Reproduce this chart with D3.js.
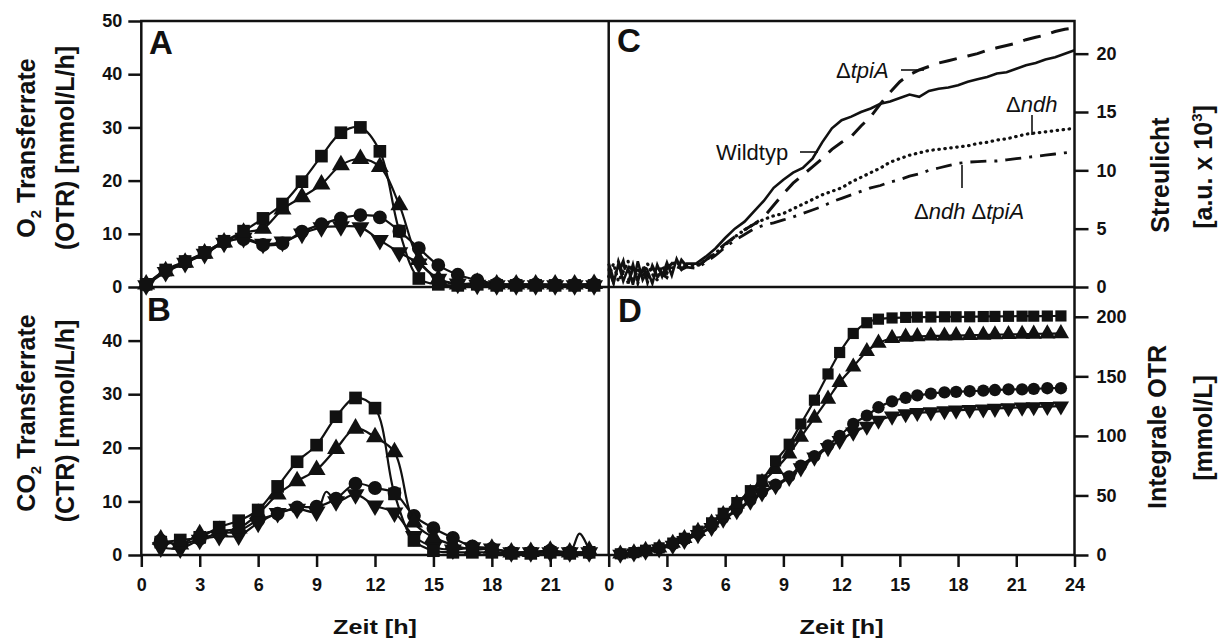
<!DOCTYPE html>
<html>
<head>
<meta charset="utf-8">
<script src="https://cdn.jsdelivr.net/npm/d3@7"></script>
<style>
body { margin: 0; background: #fff; }
svg text { font-family: "Liberation Sans", Arial, sans-serif; }
</style>
</head>
<body>
<svg id="chart" width="1228" height="639"></svg>
<script>
// ---- A: O2 transfer rate (OTR) ----
var timeA = [0.25, 1.25, 2.25, 3.25, 4.25, 5.25, 6.25, 7.25, 8.25, 9.25, 10.25, 11.25,
             12.25, 13.25, 14.25, 15.25, 16.25, 17.25, 18.25, 19.25, 20.25, 21.25, 22.25, 23.25];
var otrSquare = [0.5, 3.2, 4.8, 6.5, 8.6, 10.5, 12.9, 15.6, 19.8, 24.6, 29.0, 30.0, 25.5, 10.5, 1.6, 0.5, 0.3, 0.5, 0.3, 0.3, 0.3, 0.3, 0.3, 0.3];
var otrUp     = [0.5, 3.0, 4.6, 6.3, 8.4, 10.2, 11.0, 14.6, 16.9, 19.3, 22.9, 24.1, 22.6, 15.4, 5.1, 1.5, 0.5, 0.8, 0.5, 0.5, 0.5, 0.5, 0.5, 0.6];
var otrCircle = [0.4, 3.0, 4.7, 6.4, 8.5, 9.0, 7.9, 8.2, 10.4, 11.8, 12.9, 13.5, 13.1, 10.5, 7.3, 4.1, 2.3, 1.3, 0.6, 0.5, 0.5, 0.4, 0.4, 0.5];
var otrDown   = [0.3, 2.8, 4.5, 6.2, 8.3, 9.2, 8.1, 8.5, 10.0, 11.2, 11.4, 11.2, 8.8, 6.5, 4.4, 1.5, 0.6, 0.4, 0.3, 0.3, 0.3, 0.3, 0.3, 0.3];

// ---- B: CO2 transfer rate (CTR) ----
var timeB = [1, 2, 3, 4, 5, 6, 7, 8, 9, 10, 11, 12, 13, 14, 15, 16, 17, 18, 19, 20, 21, 22, 23];
var ctrSquare = [2.4, 2.8, 3.3, 5.2, 6.4, 8.4, 12.8, 17.4, 20.5, 25.8, 29.3, 27.4, 11.4, 2.7, 0.8, 0.5, 0.5, 0.5, 0.3, 0.3, 0.5, 0.3, 0.5];
var ctrUp     = [2.9, 2.0, 3.9, 4.5, 5.0, 7.7, 11.3, 13.8, 15.9, 19.8, 23.6, 22.0, 19.2, 6.1, 3.3, 1.9, 1.0, 1.2, 0.5, 0.6, 0.8, 0.5, 0.8];
var ctrCircle = [2.7, 2.0, 3.0, 4.0, 4.5, 6.5, 7.7, 8.9, 9.0, 10.5, 13.3, 12.5, 11.6, 7.3, 5.0, 3.2, 1.6, 1.2, 0.5, 0.5, 0.8, 0.5, 0.5];
var ctrDown   = [1.4, 1.2, 2.8, 3.5, 3.6, 6.0, 7.8, 8.6, 8.1, 10.0, 11.3, 9.2, 7.9, 3.5, 1.5, 1.0, 1.4, 1.2, 0.5, 0.5, 0.5, 0.5, 0.5];
// readings between markers (line only)
var ctrUpExtra   = [[22.5, 4.0]];
var ctrDownExtra = [[9.5, 11.8]];

// ---- C: scattered light ----
var timeC = [0, 0.25, 0.5, 0.75, 1, 1.25, 1.5, 1.75, 2, 2.25, 2.5, 2.75, 3, 3.25, 3.5, 3.75, 4,
             4.5, 5, 5.5, 6, 6.5, 7, 7.5, 8, 8.5, 9, 9.5, 10, 10.5, 11, 11.5, 12, 12.5, 13, 13.5, 14,
             14.5, 15, 15.5, 16, 16.5, 17, 17.5, 18, 18.5, 19, 19.5, 20, 20.5, 21, 21.5, 22, 22.5, 23, 23.5, 24];
var slWild = [1.5, 0.3, 2.0, 0.5, 1.6, 0.2, 2.2, 0.6, 1.4, 0.3, 1.9, 0.9, 2.1, 1.0, 2.4, 1.5, 2.0,
              2.0, 2.6, 3.3, 4.2, 5.0, 5.6, 6.5, 7.4, 8.5, 9.2, 9.8, 10.2, 11.0, 12.4, 13.6, 14.3, 14.6, 15.0, 15.3, 15.7,
              15.9, 16.2, 16.5, 16.3, 16.8, 17.0, 17.1, 17.3, 17.6, 17.8, 18.0, 18.3, 18.4, 18.7, 19.0, 19.2, 19.5, 19.7, 20.0, 20.3];
var slTpiA = [2.0, 0.6, 1.2, 2.2, 0.3, 1.7, 0.5, 2.1, 0.4, 1.8, 0.9, 0.4, 1.6, 2.0, 1.3, 2.3, 1.8,
              1.7, 2.3, 3.0, 3.7, 4.3, 4.9, 5.4, 6.0, 7.0, 8.0, 8.9, 9.6, 10.3, 11.0, 11.8, 12.4, 12.9, 13.8, 14.6, 15.7,
              16.7, 17.6, 18.2, 18.6, 18.9, 19.2, 19.4, 19.6, 19.8, 20.0, 20.3, 20.5, 20.7, 20.9, 21.2, 21.4, 21.6, 21.9, 22.1, 22.2];
var slNdh = [0.9, 2.0, 0.5, 1.3, 2.2, 0.4, 1.5, 0.8, 2.0, 1.1, 0.6, 1.8, 1.2, 1.9, 2.2, 1.6, 1.9,
             1.8, 2.3, 2.9, 3.6, 4.3, 4.9, 5.4, 5.8, 6.1, 6.3, 6.7, 7.1, 7.5, 7.9, 8.2, 8.5, 9.0, 9.4, 9.8, 10.2,
             10.7, 11.0, 11.3, 11.5, 11.7, 11.8, 11.9, 12.0, 12.1, 12.3, 12.4, 12.6, 12.7, 12.9, 13.1, 13.2, 13.3, 13.4, 13.5, 13.6];
var slNdhTpiA = [1.6, 0.4, 2.2, 1.0, 0.5, 1.9, 0.3, 1.5, 1.0, 0.5, 1.7, 1.2, 0.8, 1.6, 1.9, 1.5, 1.7,
                 1.6, 2.1, 2.7, 3.4, 4.0, 4.5, 5.0, 5.3, 5.5, 5.75, 6.0, 6.3, 6.6, 6.9, 7.3, 7.6, 7.9, 8.2, 8.5, 8.7,
                 9.0, 9.2, 9.5, 9.7, 10.0, 10.2, 10.4, 10.6, 10.7, 10.75, 10.8, 10.8, 10.9, 11.0, 11.1, 11.2, 11.3, 11.4, 11.5, 11.6];

// ---- D: integral OTR ----
var timeD = [0.6, 1.3, 1.9, 2.6, 3.3, 3.9, 4.6, 5.3, 5.9, 6.6, 7.3, 7.9, 8.6, 9.3, 9.9, 10.6, 11.3, 11.9,
             12.6, 13.3, 13.9, 14.6, 15.3, 15.9, 16.6, 17.3, 17.9, 18.6, 19.3, 19.9, 20.6, 21.3, 21.9, 22.6, 23.3];
var iotrSquare = [1, 2, 4, 6, 10, 14, 20, 27, 35, 44, 54, 63, 79, 93, 110, 130, 152, 170, 186, 195, 198, 199, 199.5, 199.7, 199.8, 200, 200, 200, 200.2, 200.3, 200.4, 200.5, 200.5, 200.6, 200.7];
var iotrUp     = [1, 2, 4, 6, 10, 14, 20, 27, 34, 43, 52, 61, 72, 85, 99, 115, 131, 145, 158, 171, 178, 182, 183, 183.5, 184, 184, 184.3, 184.5, 184.7, 185, 185.2, 185.4, 185.6, 185.8, 186];
var iotrCircle = [1, 2, 3.5, 5.5, 9, 13, 18, 24, 31, 38, 46, 53, 59, 66, 75, 83, 92, 100, 110, 117, 124, 129, 132, 134, 135.5, 136.5, 137, 137.5, 138, 138.5, 139, 139, 139.5, 140, 140];
var iotrDown   = [0.5, 1.5, 3, 5, 8, 12, 17, 23, 30, 37, 45, 52, 58, 65, 73, 82, 90, 96, 103, 108, 113, 116.5, 118.5, 119.5, 120, 121, 121.5, 122, 122.5, 123, 123.5, 124, 124.3, 124.6, 125];

// ---- axis ticks ----
var ticksLeftA = [0, 10, 20, 30, 40, 50];
var ticksLeftB = [0, 10, 20, 30, 40];
var ticksTimeLeft = [0, 3, 6, 9, 12, 15, 18, 21];
var ticksTimeRight = [0, 3, 6, 9, 12, 15, 18, 21, 24];
var ticksC = [0, 5, 10, 15, 20];
var ticksD = [0, 50, 100, 150, 200];

var svg = d3.select("#chart");
var L = 141.3, M = 608.7, R = 1074.5, T = 21, MID = 287, B = 555;
var ink = "#111";

var xL = d3.scaleLinear().domain([0, 24]).range([L, M]);
var xR = d3.scaleLinear().domain([0, 24]).range([M, R]);
var yA = d3.scaleLinear().domain([0, 50]).range([MID, T]);
var yB = d3.scaleLinear().domain([0, 50]).range([B, MID]);
var yC = d3.scaleLinear().domain([0, 22.8]).range([MID, T]);
var yD = d3.scaleLinear().domain([0, 225]).range([B, MID]);

function styleAxis(g, size) {
    g.select(".domain").remove();
    g.selectAll(".tick line").attr("stroke", ink).attr("stroke-width", 2.5);
    g.selectAll(".tick text")
        .attr("fill", ink)
        .attr("font-size", size)
        .attr("font-weight", "bold")
        .attr("font-family", "'Liberation Sans', Arial, sans-serif");
}

svg.append("g").call(d3.axisLeft(yA).tickValues(ticksLeftA).tickSize(13).tickPadding(6))
    .attr("transform", "translate(" + L + ",0)").call(styleAxis, 18);
svg.append("g").call(d3.axisLeft(yB).tickValues(ticksLeftB).tickSize(13).tickPadding(6))
    .attr("transform", "translate(" + L + ",0)").call(styleAxis, 18);
svg.append("g").call(d3.axisBottom(xL).tickValues(ticksTimeLeft).tickSize(12).tickPadding(11))
    .attr("transform", "translate(0," + B + ")").call(styleAxis, 18);
svg.append("g").call(d3.axisBottom(xR).tickValues(ticksTimeRight).tickSize(12).tickPadding(11))
    .attr("transform", "translate(0," + B + ")").call(styleAxis, 18);
svg.append("g").call(d3.axisRight(yC).tickValues(ticksC).tickSize(14).tickPadding(8))
    .attr("transform", "translate(" + R + ",0)").call(styleAxis, 18);
svg.append("g").call(d3.axisRight(yD).tickValues(ticksD).tickSize(14).tickPadding(8))
    .attr("transform", "translate(" + R + ",0)").call(styleAxis, 18);

// frame
var frame = svg.append("g").attr("stroke", ink).attr("stroke-width", 2.5);
frame.append("rect").attr("x", L).attr("y", T).attr("width", R - L).attr("height", B - T).attr("fill", "none");
frame.append("line").attr("x1", M).attr("x2", M).attr("y1", T).attr("y2", B);
frame.append("line").attr("x1", L).attr("x2", R).attr("y1", MID).attr("y2", MID);

// marker series
var shapes = {
    square: { type: d3.symbolSquare, rot: 0 },
    up: { type: d3.symbolTriangle, rot: 0 },
    circle: { type: d3.symbolCircle, rot: 0 },
    down: { type: d3.symbolTriangle, rot: 180 }
};

function drawSeries(x, y, times, vals, shape, size, extra) {
    var pts = times.map((t, i) => [t, vals[i]]);
    var linePts = pts.concat(extra || []).sort((a, b) => a[0] - b[0]);
    var line = d3.line().x(d => x(d[0])).y(d => y(d[1])).curve(d3.curveCatmullRom.alpha(0.5));
    svg.append("path").attr("d", line(linePts))
        .attr("fill", "none").attr("stroke", ink).attr("stroke-width", 2.2);
    var s = shapes[shape];
    svg.append("g").selectAll("path")
        .data(pts)
        .join("path")
        .attr("d", d3.symbol().type(s.type).size(size))
        .attr("transform", d => "translate(" + x(d[0]) + "," + y(d[1]) + ") rotate(" + s.rot + ")")
        .attr("fill", ink);
}

drawSeries(xL, yA, timeA, otrDown, "down", 140);
drawSeries(xL, yA, timeA, otrCircle, "circle", 150);
drawSeries(xL, yA, timeA, otrUp, "up", 140);
drawSeries(xL, yA, timeA, otrSquare, "square", 160);

drawSeries(xL, yB, timeB, ctrDown, "down", 140, ctrDownExtra);
drawSeries(xL, yB, timeB, ctrCircle, "circle", 150);
drawSeries(xL, yB, timeB, ctrUp, "up", 140, ctrUpExtra);
drawSeries(xL, yB, timeB, ctrSquare, "square", 160);

drawSeries(xR, yD, timeD, iotrDown, "down", 115);
drawSeries(xR, yD, timeD, iotrCircle, "circle", 120);
drawSeries(xR, yD, timeD, iotrUp, "up", 115);
drawSeries(xR, yD, timeD, iotrSquare, "square", 125);

// C lines
var cLine = d3.line().x((d, i) => xR(timeC[i])).y(d => yC(d));
var cStyles = [
    { vals: slNdhTpiA, dash: "16,8,3,8", width: 2.8, cap: "butt" },
    { vals: slNdh, dash: "0.5,5.5", width: 3.2, cap: "round" },
    { vals: slTpiA, dash: "18,11", width: 3, cap: "butt" },
    { vals: slWild, dash: null, width: 2.6, cap: "butt" }
];
cStyles.forEach(function (c) {
    svg.append("path").attr("d", cLine(c.vals))
        .attr("fill", "none").attr("stroke", ink)
        .attr("stroke-width", c.width)
        .attr("stroke-linecap", c.cap)
        .attr("stroke-dasharray", c.dash);
});

// C annotations
var ann = svg.append("g").attr("font-size", 22).attr("fill", ink);
function geneLabel(x, y, parts) {
    var t = ann.append("text").attr("x", x).attr("y", y);
    parts.forEach(p => t.append("tspan").attr("font-style", p[1] ? "italic" : "normal").text(p[0]));
}
geneLabel(836, 78, [["\u0394", 0], ["tpiA", 1]]);
ann.append("text").attr("x", 716).attr("y", 160).text("Wildtyp");
geneLabel(1006, 112, [["\u0394", 0], ["ndh", 1]]);
geneLabel(914, 219, [["\u0394", 0], ["ndh", 1], [" \u0394", 0], ["tpiA", 1]]);
var leaders = svg.append("g").attr("stroke", ink).attr("stroke-width", 1.6);
leaders.append("line").attr("x1", 901).attr("x2", 924).attr("y1", 70).attr("y2", 70);
leaders.append("line").attr("x1", 800).attr("x2", 818).attr("y1", 152).attr("y2", 152);
leaders.append("line").attr("x1", 1032).attr("x2", 1032).attr("y1", 115).attr("y2", 135);
leaders.append("line").attr("x1", 962).attr("x2", 962).attr("y1", 165).attr("y2", 188);

// panel letters
var letters = [["A", 149, 54], ["B", 147, 321], ["C", 617, 52], ["D", 618, 322]];
svg.append("g").selectAll("text").data(letters).join("text")
    .attr("x", d => d[1]).attr("y", d => d[2])
    .attr("font-size", 33).attr("font-weight", "bold").attr("fill", ink)
    .text(d => d[0]);

// axis titles
function vTitle(x, y, parts) {
    var t = svg.append("text")
        .attr("transform", "translate(" + x + "," + y + ") rotate(-90)")
        .attr("text-anchor", "middle").attr("font-size", 25).attr("font-weight", "bold").attr("fill", ink);
    parts.forEach(function (p) {
        var ts = t.append("tspan").text(p[0]);
        if (p[1]) ts.attr("font-size", 15).attr("dy", p[1]);
        if (p[2]) ts.attr("dy", p[2]);
    });
}
vTitle(35, 148, [["O"], ["2", 6], [" Transferrate", null, -6]]);
vTitle(74, 148, [["(OTR) [mmol/L/h]"]]);
vTitle(35, 413, [["CO"], ["2", 6], [" Transferrate", null, -6]]);
vTitle(74, 421, [["(CTR) [mmol/L/h]"]]);
vTitle(1169, 175, [["Streulicht"]]);
vTitle(1212, 167, [["[a.u. x 10"], ["3", -10], ["]", null, 10]]);
vTitle(1166, 427, [["Integrale OTR"]]);
vTitle(1212, 428, [["[mmol/L]"]]);

svg.append("g").selectAll("text").data([xL(12), xR(12)]).join("text")
    .attr("transform", d => "translate(" + d + ",634) scale(1.2,1)")
    .attr("text-anchor", "middle").attr("font-size", 21).attr("font-weight", "bold").attr("fill", ink)
    .text("Zeit [h]");
</script>
</body>
</html>
